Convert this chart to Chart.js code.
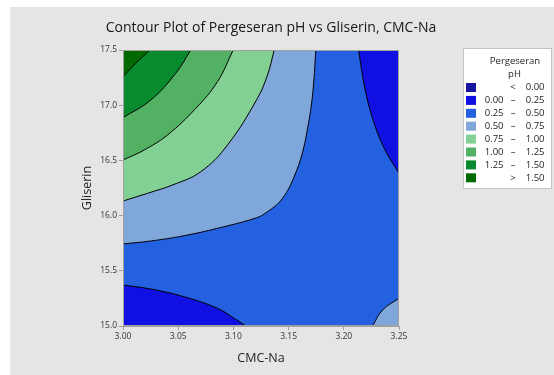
<!DOCTYPE html>
<html><head><meta charset="utf-8">
<script src="https://cdn.jsdelivr.net/npm/chart.js@4/dist/chart.umd.min.js"></script>
<style>html,body{margin:0;padding:0;background:#fff;overflow:hidden}#wrap{width:554px;height:375px;position:relative}</style>
</head><body><div id="wrap"><canvas id="c" width="554" height="375"></canvas></div>
<script>
// ---- data ----
const chartTitle = 'Contour Plot of Pergeseran pH vs Gliserin, CMC-Na';
const xTitle = 'CMC-Na';
const yTitle = 'Gliserin';
const xTicks = [3.00, 3.05, 3.10, 3.15, 3.20, 3.25];
const yTicks = [15.0, 15.5, 16.0, 16.5, 17.0, 17.5];

const legendTitle = ['Pergeseran', 'pH'];
const legendLow  = ['', '0.00', '0.25', '0.50', '0.75', '1.00', '1.25', ''];
const legendSep  = ['<', '–', '–', '–', '–', '–', '–', '>'];
const legendHigh = ['0.00', '0.25', '0.50', '0.75', '1.00', '1.25', '1.50', '1.50'];
const legendColors = ['#1616a2', '#1010e2', '#2461e1', '#7fa7d9', '#82d094', '#53b163', '#088a2e', '#006a00'];

// contour lines (CMC-Na, Gliserin)
const c150 = [[3.00,17.258],[3.0116,17.38],[3.0243,17.5]];
const c125 = [[3.00,16.887],[3.0252,17.047],[3.0478,17.289],[3.0614,17.5]];
const c100 = [[3.00,16.504],[3.0192,16.594],[3.0403,16.730],[3.066,16.972],[3.0856,17.213],[3.0998,17.5]];
const c075 = [[3.00,16.132],[3.0222,16.202],[3.0448,16.277],[3.0705,16.398],[3.0947,16.640],[3.1218,17.063],[3.1309,17.274],[3.1370,17.5]];
const c050a = [[3.00,15.743],[3.0252,15.770],[3.0554,15.818],[3.0856,15.885],[3.1218,15.983],[3.1309,16.036],[3.1400,16.105],[3.1463,16.182],[3.1520,16.283],[3.1611,16.519],[3.1672,16.791],[3.1717,17.092],[3.1747,17.5]];
const c050b = [[3.2260,15.0],[3.2351,15.145],[3.25,15.251]];
const c025a = [[3.2134,17.5],[3.2185,17.183],[3.2260,16.881],[3.2366,16.610],[3.25,16.383]];
const c025b = [[3.00,15.371],[3.0252,15.335],[3.0554,15.265],[3.0856,15.160],[3.1007,15.070],[3.1113,15.0]];

const FONT = '"Open Sans", "Noto Sans", sans-serif';
const toPts = a => a.map(p => ({x: p[0], y: p[1]}));

function region(pts, color, fill, order) {
  return {
    data: toPts(pts), showLine: true, fill: fill, backgroundColor: color,
    borderColor: '#000', borderWidth: 1, pointRadius: 0,
    tension: 0.4, order: order
  };
}

const decor = {
  id: 'decor',
  beforeDraw(chart) {
    const ctx = chart.ctx;
    ctx.save();
    ctx.fillStyle = '#ffffff'; ctx.fillRect(0, 0, 554, 375);
    ctx.fillStyle = '#e5e5e5'; ctx.fillRect(10, 7, 544, 368);
    ctx.restore();
  },
  beforeDatasetsDraw(chart) {
    const {ctx, chartArea: a} = chart;
    ctx.save();
    ctx.fillStyle = legendColors[2];
    ctx.fillRect(a.left, a.top, a.right - a.left, a.bottom - a.top);
    ctx.restore();
  },
  afterDatasetsDraw(chart) {
    const {ctx, chartArea: a} = chart;
    ctx.save();
    ctx.strokeStyle = '#a0a0a0'; ctx.lineWidth = 1;
    ctx.strokeRect(a.left + 0.5, a.top + 0.5, a.right - a.left - 1, a.bottom - a.top - 1);
    ctx.restore();
  },
  afterDraw(chart) {
    const ctx = chart.ctx;
    ctx.save();
    ctx.fillStyle = '#161616';
    ctx.font = '14px ' + FONT;
    ctx.textAlign = 'center'; ctx.textBaseline = 'middle';
    ctx.fillText(chartTitle, 271, 28.5);
    // legend box
    ctx.fillStyle = '#ffffff';
    ctx.fillRect(463, 48, 89, 141);
    ctx.strokeStyle = '#c4c4c4'; ctx.lineWidth = 1;
    ctx.strokeRect(463.5, 48.5, 88, 140);
    ctx.fillStyle = '#1e1e1e';
    ctx.font = '9.5px ' + FONT;
    ctx.textAlign = 'center';
    ctx.fillText(legendTitle[0], 515, 61);
    ctx.fillText(legendTitle[1], 514.5, 74.5);
    for (let i = 0; i < legendColors.length; i++) {
      const y = 87.5 + i * 12.9;
      ctx.fillStyle = legendColors[i];
      ctx.fillRect(466, y - 4.5, 10, 9);
      ctx.fillStyle = '#1e1e1e';
      ctx.textAlign = 'right';
      if (legendLow[i]) ctx.fillText(legendLow[i], 503.5, y);
      ctx.fillText(legendHigh[i], 544.5, y);
      ctx.textAlign = 'center';
      ctx.fillText(legendSep[i], 513, y);
    }
    ctx.restore();
  }
};

new Chart(document.getElementById('c'), {
  type: 'scatter',
  data: {
    datasets: [
      region(c050a, legendColors[3], 'end', 6),
      region(c075, legendColors[4], 'end', 5),
      region(c100, legendColors[5], 'end', 4),
      region(c125, legendColors[6], 'end', 3),
      region(c150, legendColors[7], 'end', 2),
      region(c025a, legendColors[1], 'end', 1),
      region(c025b, legendColors[1], 'start', 1),
      region(c050b, legendColors[3], 'start', 1)
    ]
  },
  options: {
    responsive: false, devicePixelRatio: 1, animation: false, events: [],
    layout: {padding: {left: 0, right: 155, top: 50, bottom: 0}},
    plugins: {legend: {display: false}, tooltip: {enabled: false}, title: {display: false}},
    scales: {
      x: {
        type: 'linear', min: xTicks[0], max: xTicks[xTicks.length - 1],
        afterBuildTicks: s => { s.ticks = xTicks.map(v => ({value: v})); },
        afterFit: s => { s.height = 49; },
        ticks: {callback: v => Number(v).toFixed(2), color: '#333', font: {family: FONT, size: 8.5}, padding: 1, maxRotation: 0, autoSkip: false},
        grid: {drawOnChartArea: false, drawTicks: true, tickLength: 4, color: '#a0a0a0'},
        border: {display: true, color: '#a0a0a0'},
        title: {display: true, text: xTitle, color: '#1e1e1e', font: {family: FONT, size: 12.5}, padding: {top: 0, bottom: 9.5}}
      },
      y: {
        type: 'linear', min: yTicks[0], max: yTicks[yTicks.length - 1],
        afterBuildTicks: s => { s.ticks = yTicks.map(v => ({value: v})); },
        afterFit: s => { s.width = 123; },
        ticks: {callback: v => Number(v).toFixed(1), color: '#333', font: {family: FONT, size: 8.5}, padding: 2, autoSkip: false},
        grid: {drawOnChartArea: false, drawTicks: true, tickLength: 4, color: '#a0a0a0'},
        border: {display: true, color: '#a0a0a0'},
        title: {display: true, text: yTitle, color: '#1e1e1e', font: {family: FONT, size: 12.5}, padding: {top: 80, bottom: 0}}
      }
    }
  },
  plugins: [decor]
});
</script></body></html>
